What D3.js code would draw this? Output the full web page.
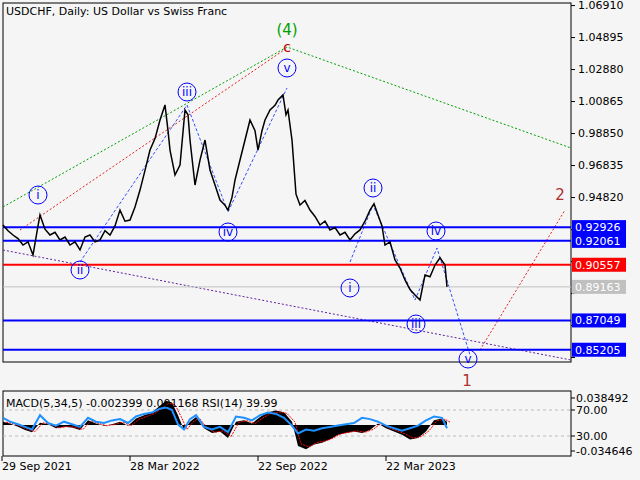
<!DOCTYPE html><html><head><script src="https://cdn.jsdelivr.net/npm/d3@7"></script>
<style>body{margin:0;background:#f5f5f5}text{font-family:Tahoma,"DejaVu Sans",sans-serif;font-size:11px}</style></head><body><svg width="640" height="480"></svg><script>
const title="USDCHF, Daily:  US Dollar vs Swiss Franc";
const priceX=[3,8,13,18,23,28,33,38,40,45,50,55,60,65,70,75,80,85,90,95,100,105,110,115,120,125,130,135,140,145,150,155,160,165,168,170,175,180,185,188,190,195,200,205,210,215,220,225,228,232,235,240,245,250,255,258,262,265,270,275,278,283,286,288,292,296,300,305,310,315,320,325,330,335,340,345,350,355,360,365,370,374,378,382,385,390,395,400,405,410,415,420,425,430,435,440,445,447];
const price=[0.9306,0.9270,0.9243,0.9220,0.9180,0.9200,0.9117,0.9300,0.9369,0.9280,0.9243,0.9260,0.9212,0.9230,0.9180,0.9200,0.9149,0.9230,0.9243,0.9200,0.9212,0.9270,0.9243,0.9300,0.9400,0.9330,0.9337,0.9420,0.9526,0.9650,0.9778,0.9850,0.9967,1.0062,0.9900,0.9778,0.9621,0.9684,1.0030,1.0000,0.9841,0.9558,0.9715,0.9841,0.9652,0.9558,0.9463,0.9430,0.9400,0.9480,0.9589,0.9715,0.9841,0.9967,0.9900,0.9778,0.9900,0.9967,1.0030,1.0060,1.0093,1.0125,1.0000,1.0030,0.9841,0.9500,0.9432,0.9460,0.9400,0.9360,0.9306,0.9330,0.9275,0.9290,0.9243,0.9260,0.9212,0.9250,0.9275,0.9330,0.9400,0.9440,0.9369,0.9300,0.9180,0.9200,0.9086,0.9035,0.8960,0.8900,0.8865,0.8834,0.8991,0.8980,0.9054,0.9100,0.9054,0.8916];
const yTicks=[1.06910,1.04895,1.02880,1.00865,0.98850,0.96835,0.94820,0.92805,0.90790,0.88775,0.86760,0.84745];
const shownTicks=[1.06910,1.04895,1.02880,1.00865,0.98850,0.96835,0.94820];
const levels=[{v:0.92926,c:"#0000ff"},{v:0.92061,c:"#0000ff"},{v:0.90557,c:"#ff0000"},{v:0.89163,c:"#c0c0c0"},{v:0.87049,c:"#0000ff"},{v:0.85205,c:"#0000ff"}];
const dates=[{x:2,t:"29 Sep 2021"},{x:130,t:"28 Mar 2022"},{x:258,t:"22 Sep 2022"},{x:386,t:"22 Mar 2023"}];
const macdX=[3,10,18,25,32,40,48,56,64,72,80,88,96,104,112,120,128,136,144,152,160,166,172,178,184,190,196,204,212,220,228,236,244,252,260,268,276,284,292,298,306,314,322,330,338,346,354,362,370,378,386,394,402,410,418,426,434,442,447];
const macd=[0.004,0.002,-0.002,-0.006,-0.009,0.003,0.001,-0.004,-0.002,-0.003,-0.006,0.006,0.002,-0.001,0.001,0.004,-0.001,0.008,0.012,0.016,0.024,0.030,0.028,0.012,-0.006,0.004,0.010,-0.004,-0.010,-0.008,-0.016,0.004,0.006,0.002,0.010,0.016,0.018,0.016,0.004,-0.026,-0.030,-0.024,-0.022,-0.018,-0.012,-0.010,-0.008,-0.010,-0.006,0.002,-0.004,-0.008,-0.012,-0.018,-0.016,-0.008,0.006,0.008,0.004];
const rsi=[58,52,48,44,40,62,50,46,52,48,44,58,52,50,54,56,50,60,64,66,72,74,70,48,40,56,62,44,40,44,36,60,58,54,62,66,64,58,46,34,40,38,42,44,46,48,50,58,56,52,46,42,38,42,46,54,60,58,42];
const svg=d3.select("svg");
const L=3,R=571,T=3,B=362;
const x=d3.scaleLinear().domain([0,568]).range([L,R]);
const y=d3.scaleLinear().domain([1.0704-359/1588,1.0704]).range([B,T]);
svg.append("rect").attr("x",L).attr("y",T).attr("width",R-L).attr("height",B-T).attr("fill","none").attr("stroke","#000");
const ax=svg.append("g").attr("transform",`translate(${R},0)`).call(d3.axisRight(y).tickValues(yTicks).tickSize(4).tickFormat(d=>shownTicks.includes(d)?d3.format(".5f")(d):""));
ax.select(".domain").remove();ax.selectAll("text").style("font-size","11px");
svg.append("text").attr("x",6).attr("y",15).text(title);
function pl(pts,c,dash,w){svg.append("path").attr("d",d3.line()(pts)).attr("fill","none").attr("stroke",c).attr("stroke-dasharray",dash).attr("stroke-width",w||1);}
pl([[3,207],[287,47],[571,148]],"#00a000","2,2");
pl([[20,230],[287,48]],"#e02020","2,2");
pl([[3,250],[571,360]],"#6020a0","2,2");
pl([[80,262],[187,105],[228,212],[287,88]],"#3050ff","3,2");
pl([[350,262],[373,205],[415,300],[437,248],[470,355]],"#3050ff","3,2");
pl([[480,350],[565,210]],"#e02020","2,2");
levels.forEach(l=>{svg.append("line").attr("x1",L).attr("x2",R).attr("y1",y(l.v)).attr("y2",y(l.v)).attr("stroke",l.c).attr("stroke-width",l.c=="#c0c0c0"?1:2);
 svg.append("rect").attr("x",R+1).attr("y",y(l.v)-7).attr("width",54).attr("height",14).attr("fill",l.c);
 svg.append("text").attr("x",R+4).attr("y",y(l.v)+4).attr("fill","#fff").text(l.v.toFixed(5));});
svg.append("path").datum(price).attr("d",d3.line().x((d,i)=>x(priceX[i]-3)).y(d=>y(d))).attr("fill","none").attr("stroke","#000").attr("stroke-width",1.5);
const circ=[["i",38,195],["ii",80,270],["iii",187,92],["iv",228,232],["v",287,68],["i",350,288],["ii",373,188],["iii",416,324],["iv",436,231],["v",468,359]];
circ.forEach(c=>{svg.append("circle").attr("cx",c[1]).attr("cy",c[2]).attr("r",9).attr("fill","none").attr("stroke","#0000ff");
 svg.append("text").attr("x",c[1]).attr("y",c[2]+4).attr("text-anchor","middle").attr("fill","#0000ff").style("font-size","12px").text(c[0]);});
[["(4)",287,35,"#00a000",15],["c",287,52,"#c00000",14],["1",467,386,"#b03030",15],["2",560,200,"#b03030",15]].forEach(t=>svg.append("text").attr("x",t[1]).attr("y",t[2]).attr("text-anchor","middle").attr("fill",t[3]).style("font-size",t[4]+"px").text(t[0]));
const PT=391,PB=456;
svg.append("rect").attr("x",L).attr("y",PT).attr("width",R-L).attr("height",PB-PT).attr("fill","none").attr("stroke","#000");
const ym=d3.scaleLinear().domain([-0.034646,0.038492]).range([PB-3,PT+3]);
const yr=d3.scaleLinear().domain([30,70]).range([436,410]);
[70,30].forEach(v=>svg.append("line").attr("x1",L).attr("x2",R).attr("y1",yr(v)).attr("y2",yr(v)).attr("stroke","#bbb").attr("stroke-dasharray","3,3"));
svg.append("path").datum(macd).attr("d",d3.area().x((d,i)=>macdX[i]).y0(ym(0)).y1(d=>ym(d))).attr("fill","#000");
svg.append("path").datum(macd).attr("d",d3.line().x((d,i)=>macdX[i]+3).y(d=>ym(d*0.9))).attr("fill","none").attr("stroke","red").attr("stroke-dasharray","2,1");
svg.append("path").datum(rsi).attr("d",d3.line().x((d,i)=>macdX[i]).y(d=>yr(d))).attr("fill","none").attr("stroke","#1e90ff").attr("stroke-width",2);
svg.append("text").attr("x",6).attr("y",407).text("MACD(5,34,5) -0.002399 0.001168 RSI(14) 39.99");
[["0.038492",ym(0.038492)+4],["70.00",yr(70)],["30.00",yr(30)],["-0.034646",ym(-0.034646)-2]].forEach(t=>{svg.append("line").attr("x1",R).attr("x2",R+4).attr("y1",t[1]).attr("y2",t[1]).attr("stroke","#000");svg.append("text").attr("x",R+5).attr("y",t[1]+4).text(t[0]);});
dates.forEach(d=>{svg.append("line").attr("x1",d.x).attr("x2",d.x).attr("y1",PB).attr("y2",PB+5).attr("stroke","#000");svg.append("text").attr("x",d.x).attr("y",470).text(d.t);});
</script></body></html>
